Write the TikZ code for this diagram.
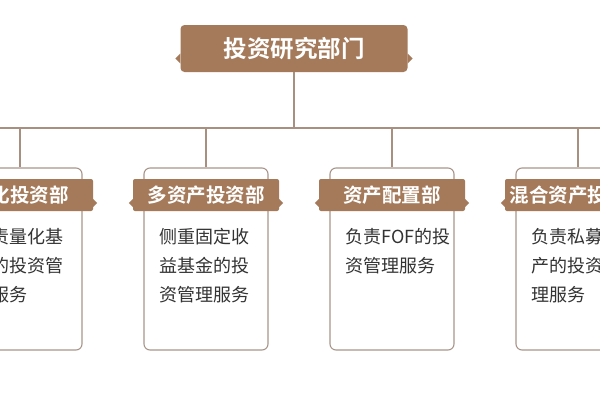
\documentclass[tikz,border=0pt]{standalone}
\usepackage{fontspec}
\setmainfont{Noto Sans CJK SC}
\newfontfamily\cjkb{Noto Sans CJK SC Bold}
\definecolor{brn}{HTML}{A47A5A}
\definecolor{bord}{HTML}{A8968A}
\definecolor{lnk}{HTML}{A89080}
\definecolor{txt}{HTML}{333333}
\begin{document}
\begin{tikzpicture}[x=1pt,y=-1pt,
  topbox/.style={fill=brn,rounded corners=4pt,minimum width=227pt,minimum height=47pt,inner sep=0pt,text=white,font=\cjkb\fontsize{23.5}{26}\selectfont},
  hdr/.style={fill=brn,rounded corners=2pt,minimum width=146pt,minimum height=32pt,inner sep=0pt,text=white,font=\cjkb\fontsize{19.5}{22}\selectfont},
  bodybox/.style={draw=bord,line width=1.1pt,fill=white,rounded corners=6pt,minimum width=124pt,minimum height=182pt,inner sep=0pt},
  bodytxt/.style={anchor=north west,inner sep=0pt,align=left,text=txt,font=\fontsize{18}{28.8}\selectfont},
  lk/.style={draw=lnk,line width=1.1pt},
  notch/.style={fill=brn}
]
\useasboundingbox (0,0) rectangle (600,400);
\clip (0,0) rectangle (600,400);
\fill[white] (0,0) rectangle (600,400);

\node[topbox] (top) at (294,48.5) {投资研究部门};
\fill[notch] ([yshift=-5pt]top.west) -- ++(-5,5) -- ++(5,5) -- cycle;
\fill[notch] ([yshift=-5pt]top.east) -- ++(5,5) -- ++(-5,5) -- cycle;

\coordinate (bar) at (0,128);
\coordinate (barL) at (-10,128);
\coordinate (barR) at (610,128);
\draw[lk] (top.south) -- (top.south |- bar);
\draw[lk] (barL) -- (barR);

\foreach \i/\x/\h/\t in {1/20/量化投资部/{负责量化基\\金的投资管\\理服务},
                          2/206/多资产投资部/{侧重固定收\\益基金的投\\资管理服务},
                          3/392/资产配置部/{负责FOF的投\\资管理服务},
                          4/578/混合资产投资部/{负责私募资\\产的投资管\\理服务}} {
  \node[bodybox] (b\i) at (\x,259) {};
  \draw[lk] (b\i.north |- bar) -- (b\i.north);
  \node[hdr] (h\i) at (\x,195) {\h};
  \fill[notch] ([yshift=-4pt]h\i.west) -- ++(-4,4) -- ++(4,4) -- cycle;
  \fill[notch] ([yshift=-4pt]h\i.east) -- ++(4,4) -- ++(-4,4) -- cycle;
  \node[bodytxt] (t\i) at ([xshift=16pt,yshift=-61pt]b\i.north west) {\t};
}
\end{tikzpicture}
\end{document}
